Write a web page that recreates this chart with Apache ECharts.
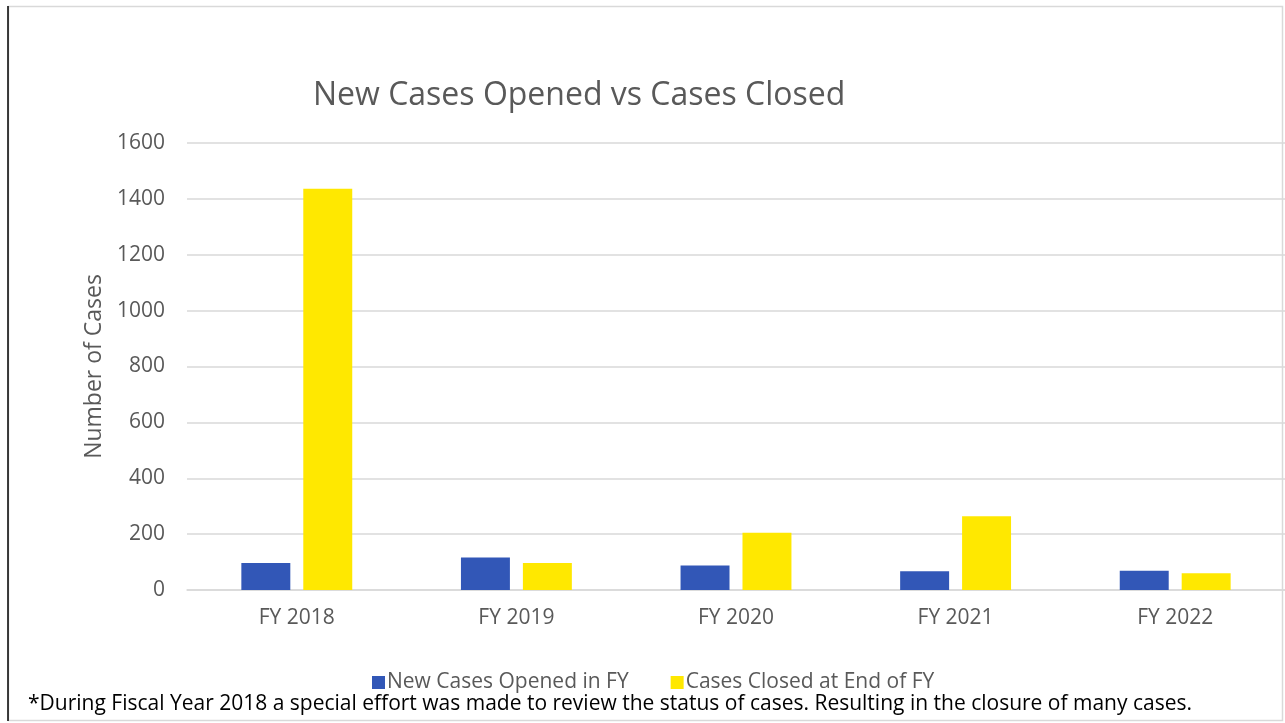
<!DOCTYPE html>
<html>
<head>
<meta charset="utf-8">
<script src="https://cdn.jsdelivr.net/npm/echarts@6/dist/echarts.min.js"></script>
<style>
html,body{margin:0;padding:0;background:#fff;}
#chart{width:1285px;height:723px;}
</style>
</head>
<body>
<div id="chart"></div>
<script>
var categories = ['FY 2018', 'FY 2019', 'FY 2020', 'FY 2021', 'FY 2022'];
var casesOpened = [97, 116, 88, 67, 69];
var casesClosed = [1436, 97, 205, 264, 60];
var yTicks = [0, 200, 400, 600, 800, 1000, 1200, 1400, 1600];
var seriesNames = ['New Cases Opened in FY', 'Cases Closed at End of FY'];
var titleText = 'New Cases Opened vs Cases Closed';
var yAxisName = 'Number of Cases';
var footnote = '*During Fiscal Year 2018 a special effort was made to review the status of cases. Resulting in the closure of many cases.';

var FONT = '"Open Sans", "Noto Sans", sans-serif';
var chart = echarts.init(document.getElementById('chart'), null, {renderer: 'canvas'});
chart.setOption({
  backgroundColor: '#fff',
  animation: false,
  title: {
    text: titleText,
    left: 308, top: 75,
    textStyle: {fontFamily: FONT, fontSize: 32, fontWeight: 'normal', color: '#595959'}
  },
  legend: {
    data: seriesNames,
    left: 367, top: 667,
    itemWidth: 13, itemHeight: 13, itemGap: 42,
    icon: 'rect',
    textStyle: {fontFamily: FONT, fontSize: 21, color: '#595959', padding: [0, 0, 0, -3]}
  },
  grid: {left: 187, top: 143, width: 1100, height: 447, containLabel: false},
  xAxis: {
    type: 'category',
    data: categories,
    axisLine: {show: true, lineStyle: {color: '#d9d9d9', width: 1.5}},
    axisTick: {show: false},
    axisLabel: {fontFamily: FONT, fontSize: 21, color: '#595959', margin: 18}
  },
  yAxis: {
    type: 'value',
    min: yTicks[0], max: yTicks[yTicks.length - 1], interval: 200,
    name: yAxisName,
    nameLocation: 'middle',
    nameGap: 80,
    nameTextStyle: {fontFamily: FONT, fontSize: 23, color: '#595959'},
    axisLine: {show: false},
    axisTick: {show: false},
    splitLine: {lineStyle: {color: '#d9d9d9', width: 1.5}},
    axisLabel: {fontFamily: FONT, fontSize: 21, color: '#595959', margin: 22,
      formatter: function (v) { return String(v); }}
  },
  series: [
    {name: seriesNames[0], type: 'bar', data: casesOpened, barGap: '26.5%', barCategoryGap: '49.5%',
     itemStyle: {color: '#3257B7'}},
    {name: seriesNames[1], type: 'bar', data: casesClosed, barGap: '26.5%', barCategoryGap: '49.5%',
     itemStyle: {color: '#FFE800'}}
  ],
  graphic: [
    {type: 'rect', silent: true, z: -1,
     shape: {x: 8.5, y: 6.5, width: 1274, height: 714},
     style: {fill: 'none', stroke: '#d9d9d9', lineWidth: 1.5}},
    {type: 'line', silent: true,
     shape: {x1: 8, y1: 6, x2: 8, y2: 721},
     style: {stroke: '#000', lineWidth: 1.5}},
    {type: 'text', left: 28, top: 694,
     style: {text: footnote, font: '21px ' + FONT, fill: '#000'}}
  ]
});
</script>
</body>
</html>
